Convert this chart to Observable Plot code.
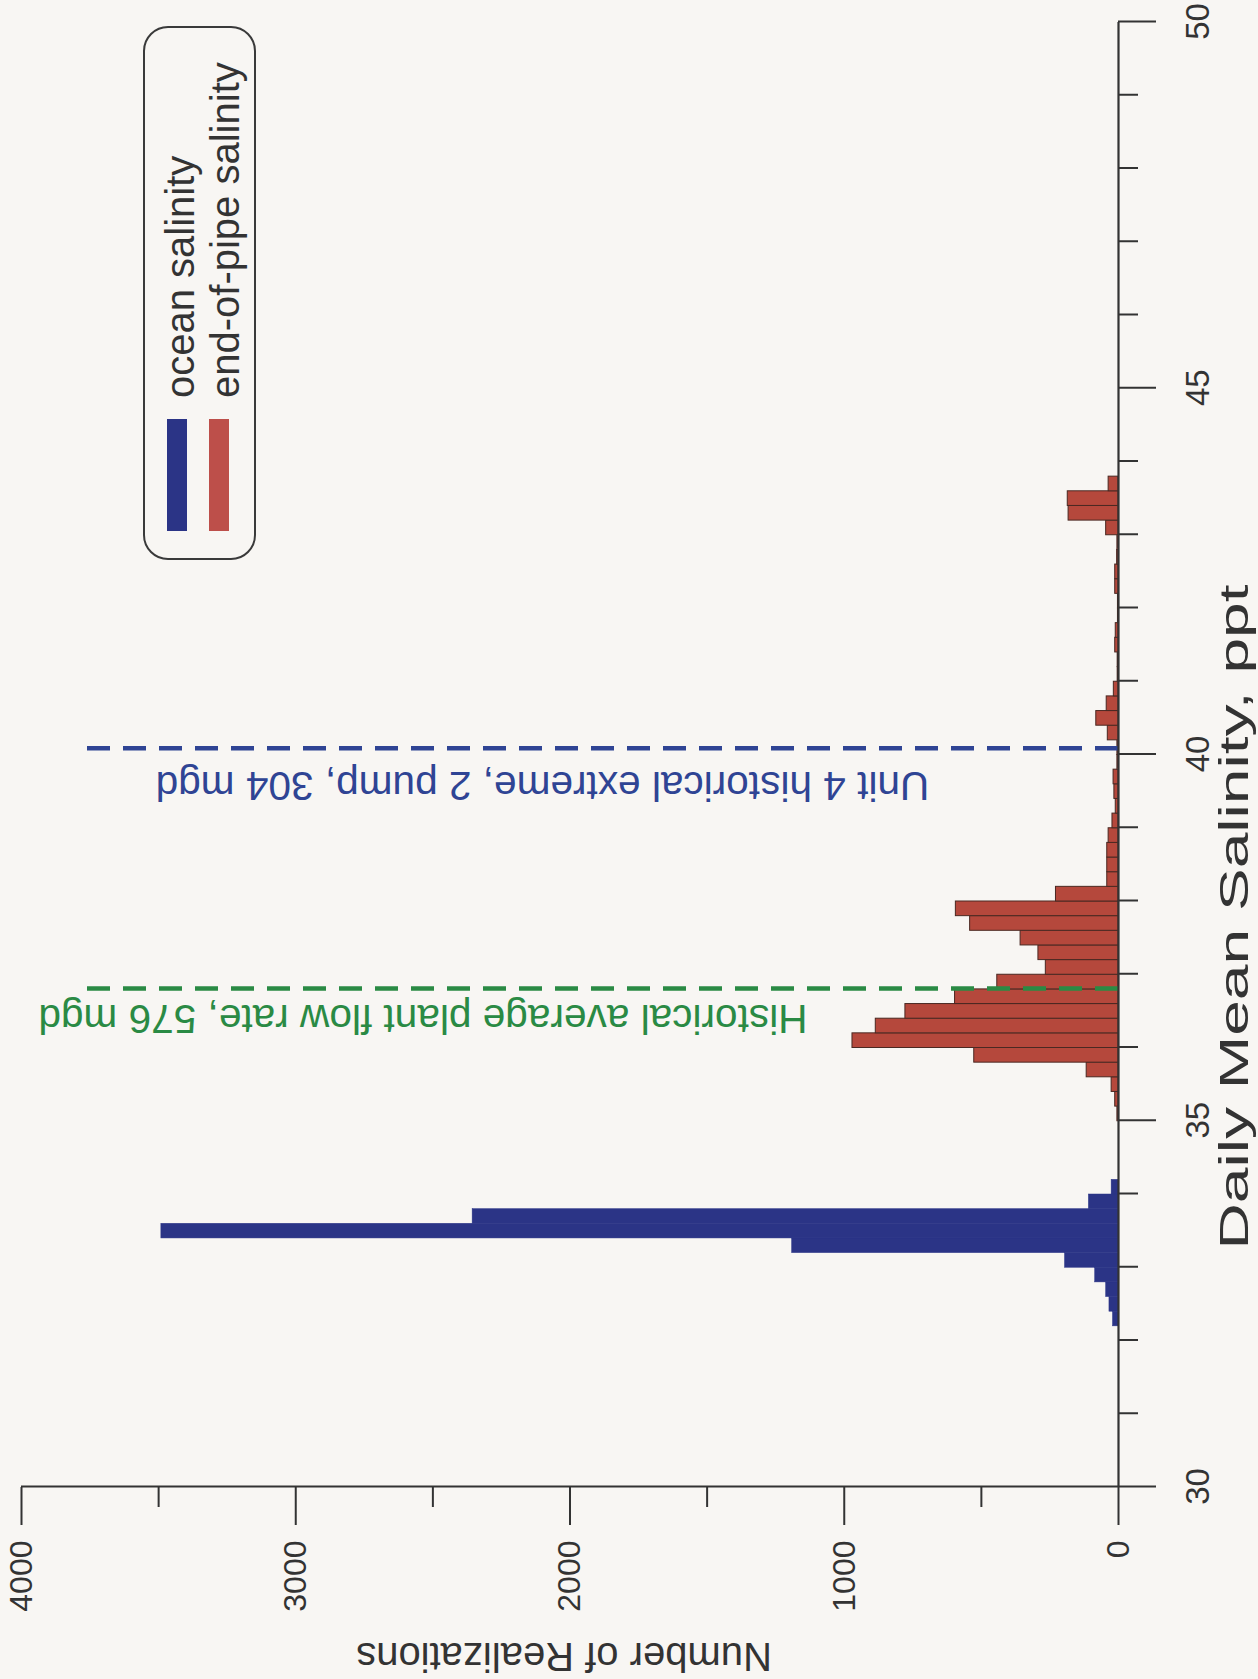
<!DOCTYPE html>
<html><head><meta charset="utf-8">
<script src="https://cdn.jsdelivr.net/npm/d3@7"></script>
<script src="https://cdn.jsdelivr.net/npm/@observablehq/plot@0.6"></script>
<style>
html,body{margin:0;padding:0;background:#f8f6f3;}
#page{position:relative;width:1258px;height:1679px;overflow:hidden;background:#f8f6f3;}
#land{position:absolute;left:0;top:0;width:1679px;height:1258px;transform-origin:0 0;transform:translate(0px,1679px) rotate(-90deg);}
#land svg{display:block;}
</style></head><body>
<div id="page"><div id="land"></div></div>
<script>
// ---- data (histogram bins of width 0.2 ppt) ----
const binWidth = 0.2;
const oceanBinStart = [32.2, 32.4, 32.6, 32.8, 33.0, 33.2, 33.4, 33.6, 33.8, 34.0];
const oceanCounts   = [20,   33,   45,   85,   195,  1190, 3490, 2355, 108,  25];
const pipeBinStart = [35.0, 35.2, 35.4, 35.6, 35.8, 36.0, 36.2, 36.4, 36.6, 36.8,
                      37.0, 37.2, 37.4, 37.6, 37.8, 38.0, 38.2, 38.4, 38.6, 38.8,
                      39.0, 39.2, 39.4, 39.6, 39.8, 40.0, 40.2, 40.4, 40.6, 40.8,
                      41.0, 41.2, 41.4, 41.6, 41.8, 42.0, 42.2, 42.4, 42.6, 42.8,
                      43.0, 43.2, 43.4, 43.6];
const pipeCounts   = [4,    12,   25,   116,  526,  970,  885,  777,  596,  442,
                      265,  292,  357,  541,  593,  228,  41,   41,   41,   36,
                      22,   10,   15,   18,   4,    4,    39,   81,   43,   17,
                      3,    3,    12,   10,   2,    2,    12,   12,   5,    4,
                      45,   182,  185,  36];
const refSalinity = [40.08, 36.8];
const refLabels = ["Unit 4 historical extreme, 2 pump, 304 mgd", "Historical average plant flow rate, 576 mgd"];
const refLabelStart = [690, 1134];
const refTop = 3800;
const salinityMajorTicks = [30, 35, 40, 45, 50];
const salinityMinorTicks = [31, 32, 33, 34, 36, 37, 38, 39, 41, 42, 43, 44, 46, 47, 48, 49];
const countMajorTicks = [0, 1000, 2000, 3000, 4000];
const countMinorTicks = [500, 1500, 2500, 3500];
const seriesNames = ["ocean salinity", "end-of-pipe salinity"];
const xTitle = "Daily Mean Salinity, ppt";
const yTitle = "Number of Realizations";

// ---- styles ----
const BLUE = "#2b3486", RED = "#b5483c", RED_EDGE = "#4a2822";
const LINE_BLUE = "#2f4494", GREEN = "#2a8a44", INK = "#333333";
const FONT = "'Liberation Sans', Arial, Helvetica, sans-serif";

const ocean = oceanBinStart.map((s, i) => ({x1: s, x2: s + binWidth, count: oceanCounts[i]}));
const pipe = pipeBinStart.map((s, i) => ({x1: s, x2: s + binWidth, count: pipeCounts[i]}));
const refs = refSalinity.map((s, i) => ({salinity: s, label: refLabels[i], start: refLabelStart[i]}));

const W = 1679, H = 1258;
const chart = Plot.plot({
  width: W, height: H,
  marginLeft: 192, marginRight: 22, marginTop: 21, marginBottom: 140,
  style: {background: "transparent", fontFamily: FONT, overflow: "visible"},
  x: {domain: [30, 50]},
  y: {domain: [0, 4000]},
  marks: [
    Plot.rectY(ocean, {x1: "x1", x2: "x2", y: "count", fill: BLUE, stroke: BLUE, strokeWidth: 0.5}),
    Plot.rectY(pipe, {x1: "x1", x2: "x2", y: "count", fill: RED, stroke: RED_EDGE, strokeWidth: 1}),
    Plot.ruleX([refs[0]], {x: "salinity", y1: 0, y2: refTop, stroke: LINE_BLUE, strokeWidth: 4.5, strokeDasharray: "23,13"}),
    Plot.ruleX([refs[1]], {x: "salinity", y1: 0, y2: refTop, stroke: GREEN, strokeWidth: 4.5, strokeDasharray: "23,13"}),
    Plot.text([refs[0]], {x: "salinity", y: "start", text: "label", rotate: -90, textAnchor: "start", lineAnchor: "bottom", dx: -24, fill: LINE_BLUE, fontSize: 40.6}),
    Plot.text([refs[1]], {x: "salinity", y: "start", text: "label", rotate: -90, textAnchor: "start", lineAnchor: "bottom", dx: -17, fill: GREEN, fontSize: 40.6}),
    Plot.axisX({ticks: salinityMajorTicks, tickSize: 38, tickPadding: 29, tickFormat: d3.format("d"), fontSize: 33, color: INK, strokeWidth: 2, label: null}),
    Plot.axisX({ticks: salinityMinorTicks, tickSize: 20, tickFormat: () => "", color: INK, strokeWidth: 2, label: null}),
    Plot.axisY({ticks: countMajorTicks, tickSize: 38, tickPadding: 16, tickFormat: d3.format("d"), fontSize: 32, color: INK, strokeWidth: 2, label: null}),
    Plot.axisY({ticks: countMinorTicks, tickSize: 20, tickFormat: () => "", color: INK, strokeWidth: 2, label: null}),
    Plot.ruleY([0], {stroke: INK, strokeWidth: 2.2}),
    Plot.ruleX([30], {stroke: INK, strokeWidth: 2.2}),
    Plot.text([xTitle], {frameAnchor: "bottom", text: d => d, textAnchor: "middle", lineAnchor: "bottom", dx: -163, dy: 129, fontSize: 40, fill: INK}),
    Plot.text([yTitle], {frameAnchor: "left", text: d => d, rotate: -90, textAnchor: "middle", lineAnchor: "bottom", dx: -156, dy: -6, fontSize: 40, fill: INK})
  ]
});

const svg = d3.select(chart);
// the x-axis title is drawn horizontally stretched in the original
svg.selectAll("text").filter(function() { return this.textContent === xTitle; })
  .attr("textLength", 665).attr("lengthAdjust", "spacingAndGlyphs");

// legend (inside the plot area, top-right of the landscape frame)
const lg = svg.append("g").attr("font-family", FONT).attr("font-size", 40).attr("fill", INK).attr("text-anchor", "start");
lg.append("rect").attr("x", 1120).attr("y", 144).attr("width", 532).attr("height", 111)
  .attr("rx", 24).attr("ry", 24).attr("fill", "none").attr("stroke", "#3a3a3a").attr("stroke-width", 2);
const swatchColors = [BLUE, "#bd4f4a"];
seriesNames.forEach((name, i) => {
  const cy = 177 + i * 42;
  lg.append("line").attr("x1", 1148).attr("x2", 1260).attr("y1", cy).attr("y2", cy)
    .attr("stroke", swatchColors[i]).attr("stroke-width", 20);
  lg.append("text").attr("x", 1281).attr("y", 194 + i * 45).attr("text-anchor", "start").text(name);
});

document.getElementById("land").appendChild(chart);
</script>
</body></html>
